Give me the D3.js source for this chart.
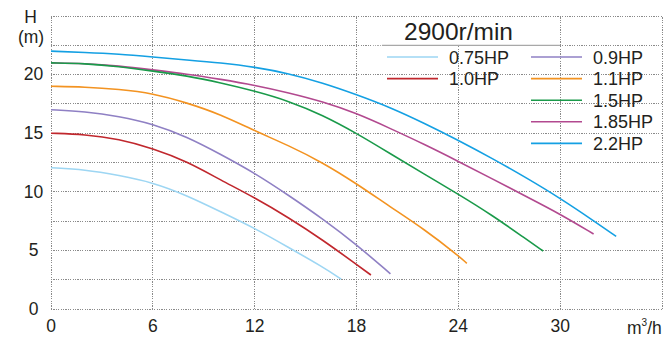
<!DOCTYPE html>
<html>
<head>
<meta charset="utf-8">
<script src="https://cdn.jsdelivr.net/npm/d3@7"></script>
<style>
  body { margin: 0; background: #fff; }
  svg { display: block; font-family: 'Liberation Sans', Arial, sans-serif; }
</style>
</head>
<body>
<div id="chart"></div>
<script>
// pump curves, head (m) vs flow (m3/h)
const speedLabel = '2900r/min';
const xTicks = [0, 6, 12, 18, 24, 30];
const yTicks = [0, 5, 10, 15, 20];
const xUnit = 'm';
const yTitle = ['H', '(m)'];

const seriesNames = ['0.75HP', '1.0HP', '0.9HP', '1.1HP', '1.85HP', '1.5HP', '2.2HP'];
const seriesColors = ['#9dd6f3', '#c0272d', '#8f80c4', '#f39321', '#b2498f', '#1a9a4a', '#14a0e3'];

const flow075 = [0, 2, 4, 6, 8, 10, 12, 14, 16, 17.1];
const head075 = [12.05, 11.9, 11.4, 10.8, 9.7, 8.3, 6.9, 5.25, 3.6, 2.55];

const flow100 = [0, 2, 4, 6, 8, 10, 12, 14, 16, 18, 18.85];
const head100 = [15.0, 14.9, 14.5, 13.7, 12.6, 11.0, 9.5, 7.8, 5.9, 3.8, 2.9];

const flow090 = [0, 2, 4, 6, 8, 10, 12, 14, 16, 18, 20];
const head090 = [17.0, 16.85, 16.45, 15.8, 14.7, 13.2, 11.6, 9.7, 7.7, 5.5, 3.0];

const flow110 = [0, 2, 4, 6, 8, 10, 12, 14, 16, 18, 20, 22, 24, 24.5];
const head110 = [19.0, 18.95, 18.75, 18.4, 17.6, 16.6, 15.2, 13.95, 12.5, 10.7, 8.7, 6.8, 4.55, 3.9];

const flow185 = [0, 2, 4, 6, 8, 10, 12, 14, 16, 18, 20, 22, 24, 26, 28, 30, 31.97];
const head185 = [21.0, 20.95, 20.75, 20.4, 20.05, 19.6, 19.1, 18.45, 17.7, 16.7, 15.4, 14.05, 12.6, 11.1, 9.6, 8.1, 6.4];

const flow150 = [0, 2, 4, 6, 8, 10, 12, 14, 16, 18, 20, 22, 24, 26, 28, 29];
const head150 = [21.0, 20.95, 20.7, 20.3, 19.9, 19.3, 18.6, 17.75, 16.55, 15.0, 13.25, 11.5, 9.8, 8.0, 5.95, 4.95];

const flow220 = [0, 2, 4, 6, 8, 10, 12, 14, 16, 18, 20, 22, 24, 26, 28, 30, 32, 33.3];
const head220 = [22.0, 21.9, 21.75, 21.5, 21.25, 21.0, 20.65, 20.1, 19.3, 18.3, 17.2, 15.85, 14.4, 12.85, 11.2, 9.45, 7.5, 6.2];

const seriesFlow = [flow075, flow100, flow090, flow110, flow185, flow150, flow220];
const seriesHead = [head075, head100, head090, head110, head185, head150, head220];

const width = 668, height = 338;
const margin = { left: 51, right: 6, top: 16, bottom: 29 };

const svg = d3.select('#chart').append('svg')
  .attr('width', width)
  .attr('height', height);

const x = d3.scaleLinear().domain([0, 36]).range([margin.left, width - margin.right]);
const y = d3.scaleLinear().domain([0, 25]).range([height - margin.bottom, margin.top]);

// dotted grid
const gridColor = '#8a8a8a';
const grid = svg.append('g');
grid.selectAll('line.v')
  .data(d3.range(0, 37, 6))
  .join('line')
  .attr('class', 'v')
  .attr('x1', d => x(d)).attr('x2', d => x(d))
  .attr('y1', y(0)).attr('y2', y(25));
grid.selectAll('line.h')
  .data(d3.range(0, 25.1, 2.5))
  .join('line')
  .attr('class', 'h')
  .attr('x1', x(0)).attr('x2', x(36))
  .attr('y1', d => y(d)).attr('y2', d => y(d));
grid.selectAll('line')
  .attr('stroke', gridColor)
  .attr('stroke-width', 1)
  .attr('stroke-dasharray', '1.2,1.2')
  .attr('shape-rendering', 'crispEdges');

// title box over the grid
svg.append('rect')
  .attr('x', x(18.9)).attr('y', y(25) + 1.5)
  .attr('width', x(30) - x(18.9) - 1).attr('height', y(22.5) - y(25) - 1.5)
  .attr('fill', '#fff');
svg.append('line')
  .attr('x1', x(19.5)).attr('x2', x(30))
  .attr('y1', y(22.5)).attr('y2', y(22.5))
  .attr('stroke', '#a8a8a8').attr('stroke-width', 1.2);
svg.append('text')
  .attr('x', 404).attr('y', 40)
  .attr('font-size', 24.5).attr('fill', '#231f20')
  .text(speedLabel);

// curves
const line = d3.line()
  .x(d => x(d[0]))
  .y(d => y(d[1]))
  .curve(d3.curveBasis);

svg.append('g')
  .selectAll('path')
  .data(seriesNames.map((name, i) => ({ name, color: seriesColors[i], pts: d3.zip(seriesFlow[i], seriesHead[i]) })))
  .join('path')
  .attr('fill', 'none')
  .attr('stroke', d => d.color)
  .attr('stroke-width', 1.6)
  .attr('d', d => line(d.pts));

// legend: two columns
const legendOrder = ['0.75HP', '1.0HP', '0.9HP', '1.1HP', '1.5HP', '1.85HP', '2.2HP'];
const legend = svg.append('g')
  .selectAll('g')
  .data(legendOrder)
  .join('g')
  .attr('transform', (d, i) => {
    const col = i < 2 ? 0 : 1;
    const row = i < 2 ? i : i - 2;
    return `translate(${col ? 531 : 387}, ${57 + row * 21.6})`;
  });
legend.append('line')
  .attr('x1', 0).attr('x2', 51)
  .attr('stroke', d => seriesColors[seriesNames.indexOf(d)])
  .attr('stroke-width', 1.6);
legend.append('text')
  .attr('x', 62)
  .attr('y', 6.5)
  .attr('font-size', 18)
  .attr('fill', '#231f20')
  .text(d => d);

// tick labels
svg.append('g')
  .selectAll('text')
  .data(xTicks)
  .join('text')
  .attr('x', d => x(d))
  .attr('y', 332)
  .attr('text-anchor', 'middle')
  .attr('font-size', 17.5)
  .attr('fill', '#231f20')
  .text(d => d);

svg.append('g')
  .selectAll('text')
  .data(yTicks)
  .join('text')
  .attr('x', 33.5)
  .attr('y', d => y(d))
  .attr('dy', '0.33em')
  .attr('text-anchor', 'middle')
  .attr('font-size', 17.5)
  .attr('fill', '#231f20')
  .text(d => d);

// axis titles
svg.append('text')
  .attr('x', 30.5).attr('y', 23)
  .attr('text-anchor', 'middle')
  .attr('font-size', 17.5).attr('fill', '#231f20')
  .text(yTitle[0]);
svg.append('text')
  .attr('x', 31).attr('y', 43)
  .attr('text-anchor', 'middle')
  .attr('font-size', 17.5).attr('fill', '#231f20')
  .text(yTitle[1]);

const unit = svg.append('text')
  .attr('x', 627).attr('y', 334)
  .attr('font-size', 17.5).attr('fill', '#231f20');
unit.append('tspan').text(xUnit);
unit.append('tspan').attr('font-size', 10).attr('dy', -8).text('3');
unit.append('tspan').attr('dy', 8).text('/h');
</script>
</body>
</html>
